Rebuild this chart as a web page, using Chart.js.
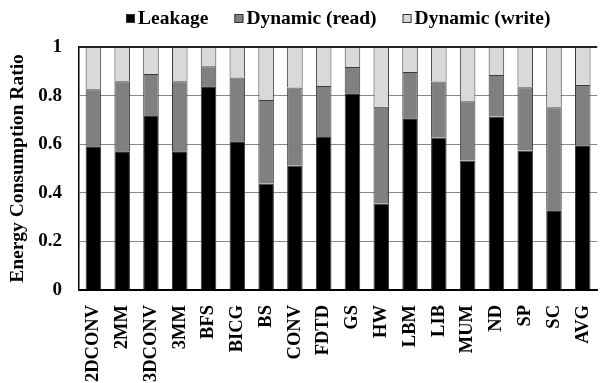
<!DOCTYPE html>
<html>
<head>
<meta charset="utf-8">
<script src="https://cdn.jsdelivr.net/npm/chart.js@4/dist/chart.umd.min.js"></script>
<style>
  html, body { margin: 0; padding: 0; background: #fff; overflow: hidden; }
  #wrap { position: relative; width: 620px; height: 383px; }
</style>
</head>
<body>
<div id="wrap"><canvas id="c"></canvas></div>
<script>
// Benchmarks on the x axis
const benchmarks = ['2DCONV', '2MM', '3DCONV', '3MM', 'BFS', 'BICG', 'BS', 'CONV', 'FDTD',
                    'GS', 'HW', 'LBM', 'LIB', 'MUM', 'ND', 'SP', 'SC', 'AVG'];

// Share of total energy per component (each column sums to 1)
const leakage      = [0.592, 0.571, 0.716, 0.571, 0.838, 0.612, 0.438, 0.511, 0.630,
                      0.810, 0.355, 0.707, 0.627, 0.533, 0.714, 0.574, 0.328, 0.596];
const dynamicRead  = [0.234, 0.288, 0.173, 0.288, 0.083, 0.263, 0.344, 0.322, 0.210,
                      0.108, 0.399, 0.190, 0.231, 0.244, 0.171, 0.260, 0.424, 0.248];
const dynamicWrite = [0.174, 0.141, 0.111, 0.141, 0.079, 0.125, 0.218, 0.167, 0.160,
                      0.082, 0.246, 0.103, 0.142, 0.223, 0.115, 0.166, 0.248, 0.156];

const yTicks = [0, 0.2, 0.4, 0.6, 0.8, 1];

const FONT = "'Liberation Serif', 'Times New Roman', serif";

// Frame line along the top of the plot area
const topFrame = {
  id: 'topFrame',
  afterDatasetsDraw(chart) {
    const { ctx, chartArea } = chart;
    ctx.save();
    ctx.strokeStyle = '#222';
    ctx.lineWidth = 2;
    ctx.beginPath();
    ctx.moveTo(chartArea.left, chartArea.top);
    ctx.lineTo(chartArea.right, chartArea.top);
    ctx.stroke();
    ctx.restore();
  }
};

// Single-row legend above the plot, centred on the plot area
const rowLegend = {
  id: 'rowLegend',
  afterDraw(chart, args, opts) {
    const { ctx, chartArea } = chart;
    const sets = chart.data.datasets;
    ctx.save();
    ctx.font = `bold ${opts.fontSize}px ${FONT}`;
    ctx.textBaseline = 'middle';
    const widths = sets.map(d => opts.box + opts.boxGap + ctx.measureText(d.label).width);
    const total = widths.reduce((a, b) => a + b, 0) + opts.itemGap * (sets.length - 1);
    let x = Math.round((chartArea.left + chartArea.right) / 2 - total / 2);
    sets.forEach((d, i) => {
      const top = Math.round(opts.y - opts.box / 2);
      ctx.fillStyle = d.backgroundColor;
      ctx.fillRect(x, top, opts.box, opts.box);
      ctx.strokeStyle = '#333';
      ctx.lineWidth = 1;
      ctx.strokeRect(x + 0.5, top + 0.5, opts.box - 1, opts.box - 1);
      ctx.fillStyle = '#000';
      ctx.fillText(d.label, x + opts.box + opts.boxGap, opts.y + 1);
      x += widths[i] + opts.itemGap;
    });
    ctx.restore();
  }
};

new Chart(document.getElementById('c'), {
  type: 'bar',
  data: {
    labels: benchmarks,
    datasets: [
      { label: 'Leakage', data: leakage, backgroundColor: '#000000' },
      { label: 'Dynamic (read)', data: dynamicRead, backgroundColor: '#808080' },
      { label: 'Dynamic (write)', data: dynamicWrite, backgroundColor: '#d9d9d9' }
    ].map(d => Object.assign(d, {
      borderColor: '#3a3a3a',
      borderWidth: 1,
      categoryPercentage: 1,
      barPercentage: 0.54
    }))
  },
  options: {
    responsive: true,
    maintainAspectRatio: false,
    animation: false,
    layout: { padding: { top: 47, right: 1, left: 0, bottom: 0 } },
    plugins: {
      tooltip: { enabled: false },
      legend: { display: false },
      rowLegend: { y: 18, box: 9, boxGap: 3, itemGap: 26, fontSize: 19.5 }
    },
    scales: {
      x: {
        stacked: true,
        afterFit(scale) { scale.height = 93; },
        grid: { display: false, drawTicks: false },
        border: { color: '#000', width: 2 },
        ticks: {
          color: '#000',
          font: { family: FONT, size: 18.5, weight: 'bold' },
          minRotation: 90,
          maxRotation: 90,
          autoSkip: false,
          padding: 15
        }
      },
      y: {
        stacked: true,
        min: 0,
        max: 1,
        afterFit(scale) { scale.width = 79; },
        afterBuildTicks(axis) { axis.ticks = yTicks.map(v => ({ value: v })); },
        grid: { color: '#888', lineWidth: 1, drawTicks: false },
        border: { color: '#000', width: 1.5 },
        ticks: {
          color: '#000',
          font: { family: FONT, size: 19, weight: 'bold' },
          padding: 17,
          callback: v => String(Math.round(v * 10) / 10)
        },
        title: {
          display: true,
          text: 'Energy Consumption Ratio',
          color: '#000',
          font: { family: FONT, size: 19.5, weight: 'bold' },
          padding: { top: 6, bottom: 0 }
        }
      }
    }
  },
  plugins: [topFrame, rowLegend]
});
</script>
</body>
</html>
